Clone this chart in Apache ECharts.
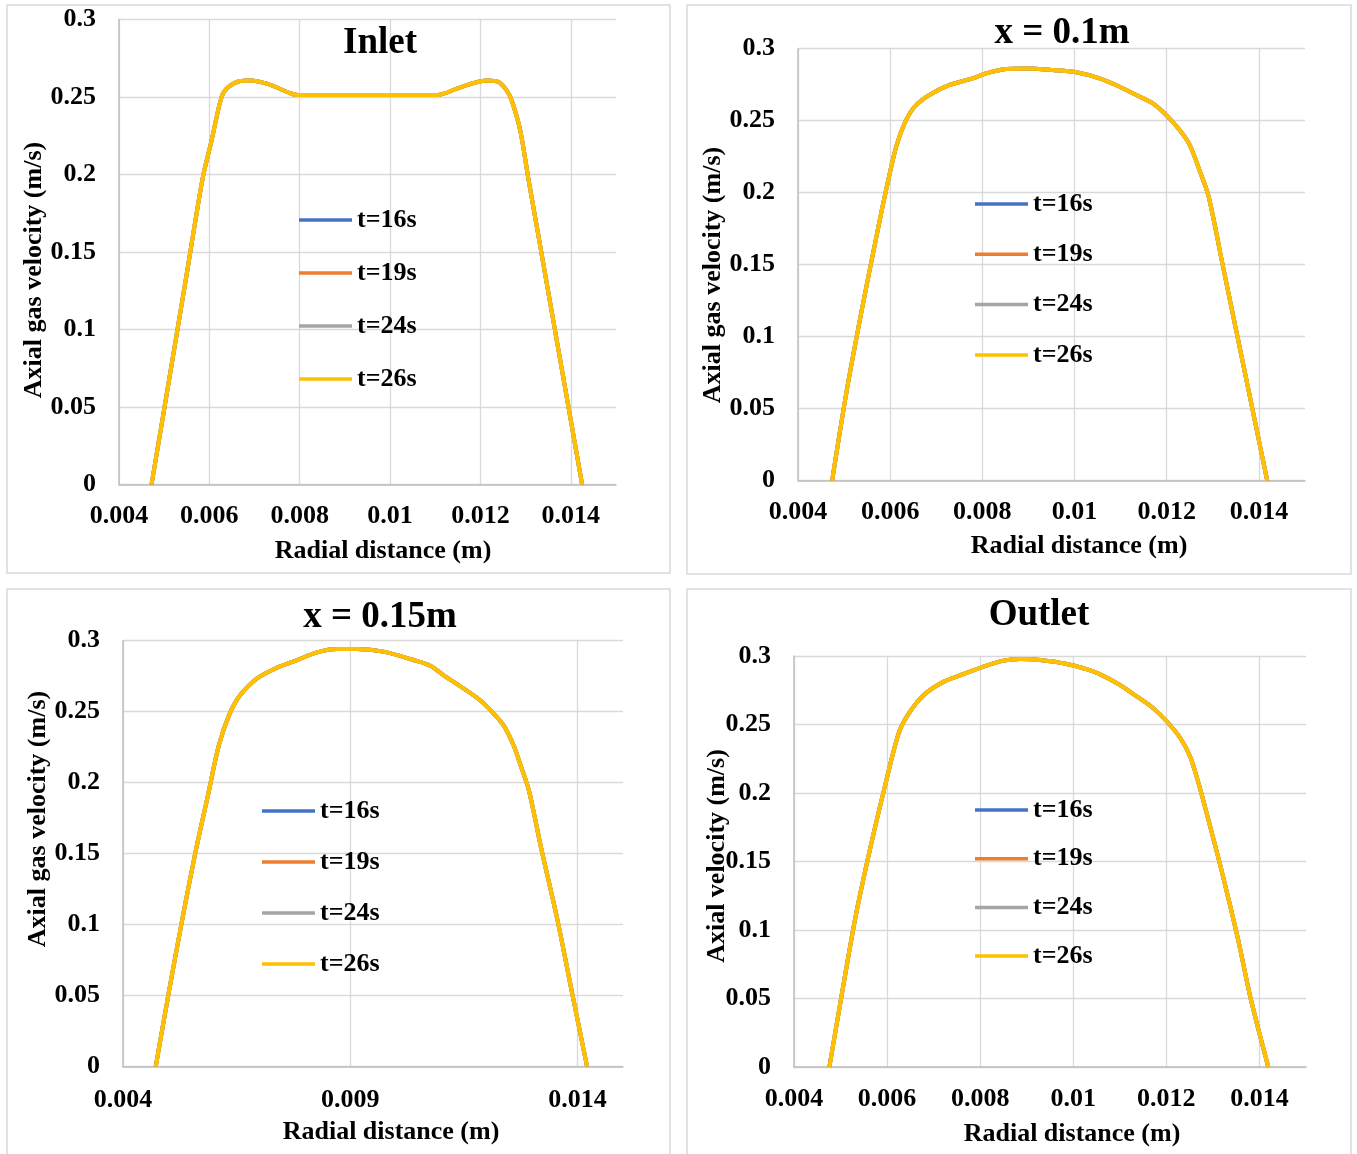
<!DOCTYPE html>
<html>
<head>
<meta charset="utf-8">
<script src="https://cdn.jsdelivr.net/npm/echarts@6/dist/echarts.min.js"></script>
<style>
html,body{margin:0;padding:0;background:#fff;}
#chart{width:1357px;height:1154px;}
</style>
</head>
<body>
<div id="chart"></div>
<script>
// ---- data ----
const seriesNames = ['t=16s', 't=19s', 't=24s', 't=26s'];
const panelTitles = ['Inlet', 'x = 0.1m', 'x = 0.15m', 'Outlet'];
const yTitles = ['Axial gas velocity (m/s)', 'Axial gas velocity (m/s)', 'Axial gas velocity (m/s)', 'Axial velocity (m/s)'];
const xTitle = 'Radial distance (m)';
const xTicksA = [0.004, 0.006, 0.008, 0.010, 0.012, 0.014];
const xTicksB = [0.004, 0.009, 0.014];
const yTicks = [0, 0.05, 0.1, 0.15, 0.2, 0.25, 0.3];

// Inlet (all four times coincide in the picture)
const inletX = [0.00472, 0.0051, 0.0055, 0.00585, 0.00605, 0.00627, 0.00642, 0.00668, 0.0069, 0.00727, 0.00782, 0.00796, 0.0095, 0.01105, 0.01148, 0.01185, 0.01214, 0.0124, 0.01258, 0.01269, 0.01288, 0.01306, 0.0133, 0.0136, 0.0139, 0.01425];
const inletY = [0, 0.066, 0.136, 0.1974, 0.222, 0.25, 0.2564, 0.2603, 0.2607, 0.2586, 0.2521, 0.2513, 0.2513, 0.2513, 0.2554, 0.259, 0.2607, 0.2597, 0.2543, 0.2479, 0.2285, 0.1974, 0.1576, 0.1078, 0.058, 0];

// x = 0.1 m
const x01X = [0.00474, 0.00505, 0.00538, 0.0057, 0.00588, 0.00613, 0.00633, 0.00653, 0.00685, 0.00729, 0.00779, 0.00808, 0.00852, 0.00895, 0.00953, 0.01004, 0.01054, 0.01098, 0.01134, 0.0117, 0.01199, 0.01228, 0.0125, 0.01271, 0.01291, 0.0132, 0.0135, 0.0138, 0.01418];
const x01Y = [0, 0.0612, 0.1179, 0.1693, 0.1972, 0.2319, 0.2493, 0.2597, 0.2678, 0.2748, 0.2794, 0.2829, 0.2859, 0.2863, 0.2852, 0.2836, 0.2794, 0.2736, 0.2678, 0.262, 0.2539, 0.2435, 0.2331, 0.2157, 0.1972, 0.152, 0.1055, 0.059, 0];

// x = 0.15 m
const x015X = [0.00472, 0.005, 0.0053, 0.0056, 0.00587, 0.00611, 0.00635, 0.00658, 0.00695, 0.00739, 0.00783, 0.00827, 0.00871, 0.00915, 0.00973, 0.01039, 0.01076, 0.01105, 0.01149, 0.01185, 0.0121, 0.01237, 0.01259, 0.01277, 0.01293, 0.01321, 0.01354, 0.01388, 0.01421];
const x015Y = [0, 0.051, 0.103, 0.152, 0.1913, 0.2265, 0.2488, 0.2617, 0.2735, 0.281, 0.2864, 0.2918, 0.2941, 0.2941, 0.2923, 0.2864, 0.2824, 0.2758, 0.2664, 0.2582, 0.2505, 0.2406, 0.2265, 0.2101, 0.1945, 0.1524, 0.106, 0.052, 0];

// Outlet
const outletX = [0.00476, 0.00504, 0.00532, 0.00564, 0.00594, 0.00625, 0.00647, 0.00679, 0.00722, 0.00765, 0.00807, 0.0085, 0.00886, 0.00929, 0.00986, 0.01044, 0.01094, 0.01137, 0.01172, 0.01201, 0.0123, 0.01251, 0.01269, 0.01286, 0.01316, 0.01354, 0.01381, 0.01419];
const outletY = [0, 0.0556, 0.1093, 0.16, 0.203, 0.2437, 0.2583, 0.2716, 0.2813, 0.2869, 0.2922, 0.2966, 0.2978, 0.2971, 0.2942, 0.2886, 0.2801, 0.2704, 0.2619, 0.2522, 0.2401, 0.2267, 0.2073, 0.186, 0.1469, 0.0932, 0.0502, 0];

const colors = ['#4472C4', '#ED7D31', '#A5A5A5', '#FFC000'];
const FONT = 'Liberation Serif';

// ---- layout ----
const panels = [
  { xs: inletX, ys: inletY, ticks: xTicksA, interval: 0.002,
    grid: { left: 119, top: 19.5, width: 497, height: 465 },
    box: [7, 5, 663, 568], title: [380, 43], xt: [383, 551], yt: [34, 270], lm: 19,
    legend: { left: 299, top: 207, gap: 27 } },
  { xs: x01X, ys: x01Y, ticks: xTicksA, interval: 0.002,
    grid: { left: 798, top: 48.7, width: 507, height: 432 },
    box: [687, 5, 664, 569], title: [1062, 33], xt: [1079, 546], yt: [713, 275], lm: 19,
    legend: { left: 975, top: 191, gap: 24.3 } },
  { xs: x015X, ys: x015Y, ticks: xTicksB, interval: 0.005,
    grid: { left: 123, top: 640.7, width: 500, height: 426 },
    box: [7, 589, 663, 580], title: [380, 617], xt: [391, 1132], yt: [38, 819], lm: 21,
    legend: { left: 262, top: 798, gap: 25 } },
  { xs: outletX, ys: outletY, ticks: xTicksA, interval: 0.002,
    grid: { left: 794, top: 656, width: 512, height: 411 },
    box: [687, 589, 664, 580], title: [1039, 615], xt: [1072, 1134], yt: [717, 856], lm: 19,
    legend: { left: 975, top: 797, gap: 22.7 } }
];

const fmt = v => String(+(+v).toFixed(4));

const option = { animation: false, grid: [], xAxis: [], yAxis: [], series: [], legend: [], graphic: [] };

panels.forEach((p, gi) => {
  option.grid.push(Object.assign({ containLabel: false }, p.grid));
  option.xAxis.push({
    type: 'value', gridIndex: gi, min: 0.004, max: 0.015, interval: p.interval,
    axisLine: { show: true, onZero: false, lineStyle: { color: '#bfbfbf', width: 1.5 } },
    axisTick: { show: false, customValues: p.ticks },
    axisLabel: { customValues: p.ticks, margin: p.lm, formatter: fmt,
      fontFamily: FONT, fontWeight: 'bold', fontSize: 26, color: '#000' },
    splitLine: { show: true, lineStyle: { color: '#d9d9d9', width: 1.3 } }
  });
  option.yAxis.push({
    type: 'value', gridIndex: gi, min: 0, max: 0.3, interval: 0.05,
    axisLine: { show: true, lineStyle: { color: '#bfbfbf', width: 1.5 } },
    axisTick: { show: false },
    axisLabel: { margin: 23, formatter: fmt, fontFamily: FONT, fontWeight: 'bold', fontSize: 26, color: '#000' },
    splitLine: { show: true, lineStyle: { color: '#d9d9d9', width: 1.3 } }
  });
  seriesNames.forEach((name, si) => {
    option.series.push({
      type: 'line', name: name, xAxisIndex: gi, yAxisIndex: gi,
      data: p.xs.map((v, i) => [v, p.ys[i]]),
      smooth: 0.3, symbol: 'none', z: 2 + si,
      lineStyle: { color: colors[si], width: 4 },
      itemStyle: { color: colors[si] }
    });
  });
  option.legend.push({
    orient: 'vertical', left: p.legend.left, top: p.legend.top, itemGap: p.legend.gap, padding: 0,
    icon: 'rect', itemWidth: 53, itemHeight: 3.5, data: seriesNames,
    textStyle: { fontFamily: FONT, fontWeight: 'bold', fontSize: 26, lineHeight: 26, color: '#000' }
  });
  option.graphic.push({
    type: 'rect', silent: true, z: -10,
    shape: { x: p.box[0], y: p.box[1], width: p.box[2], height: p.box[3] },
    style: { fill: 'none', stroke: '#d9d9d9', lineWidth: 1.5 }
  });
  option.graphic.push({
    type: 'text', x: p.title[0], y: p.title[1], z: 50,
    style: { text: panelTitles[gi], font: 'bold 37px "' + FONT + '"', fill: '#000', textAlign: 'center', textVerticalAlign: 'middle' }
  });
  option.graphic.push({
    type: 'text', x: p.xt[0], y: p.xt[1], z: 50,
    style: { text: xTitle, font: 'bold 26px "' + FONT + '"', fill: '#000', textAlign: 'center', textVerticalAlign: 'middle' }
  });
  option.graphic.push({
    type: 'text', x: p.yt[0], y: p.yt[1], rotation: Math.PI / 2, z: 50,
    style: { text: yTitles[gi], font: 'bold 26px "' + FONT + '"', fill: '#000', textAlign: 'center', textVerticalAlign: 'middle' }
  });
});

const chart = echarts.init(document.getElementById('chart'), null, { renderer: 'canvas', width: 1357, height: 1154 });
chart.setOption(option);
</script>
</body>
</html>
